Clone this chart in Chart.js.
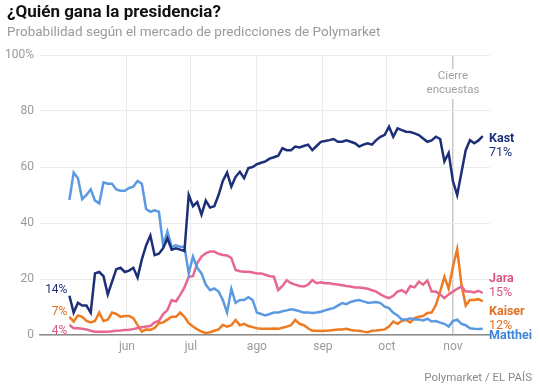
<!DOCTYPE html>
<html>
<head>
<meta charset="utf-8">
<script src="https://cdn.jsdelivr.net/npm/chart.js@4.4.0/dist/chart.umd.min.js"></script>
<style>
  html, body { margin: 0; padding: 0; background: #fff; }
  body { width: 540px; height: 390px; position: relative; overflow: hidden; font-family: Roboto, "Noto Sans", sans-serif; }
  #title { position: absolute; left: 7px; top: 1px; font-size: 17px; font-weight: 700; color: #111; }
  #subtitle { position: absolute; left: 7px; top: 23px; font-size: 13.5px; color: #9a9a9a; }
  #source { position: absolute; right: 8px; top: 370px; font-size: 11.5px; color: #8a8a8a; }
  #wrap { position: absolute; left: 0; top: 0; width: 540px; height: 390px; }
</style>
</head>
<body>
<div id="wrap"><canvas id="chart" width="540" height="390"></canvas></div>
<div id="title">¿Quién gana la presidencia?</div>
<div id="subtitle">Probabilidad según el mercado de predicciones de Polymarket</div>
<div id="source">Polymarket / EL PAÍS</div>
<script>
// days counted from 1 June
const days = [
  -27, -25, -23, -21, -19, -17, -15, -13, -11, -9,
  -7, -5, -3, -1, 1, 3, 5, 7, 9, 11,
  13, 15, 17, 19, 21, 23, 25, 27, 29, 31,
  33, 35, 37, 39, 41, 43, 45, 47, 49, 51,
  53, 55, 57, 59, 61, 63, 65, 67, 69, 71,
  73, 75, 77, 79, 81, 83, 85, 87, 89, 91,
  93, 95, 97, 99, 101, 103, 105, 107, 109, 111,
  113, 115, 117, 119, 121, 123, 125, 127, 129, 131,
  133, 135, 137, 139, 141, 143, 145, 147, 149, 151,
  153, 155, 157, 159, 161, 163, 165, 167
];

const kast = [
  14, 8, 11.5, 10.5, 10.5, 8, 22, 22.5, 21, 14.5,
  19, 23.5, 24, 22.5, 23, 24, 20.5, 27, 32, 35.5,
  28.5, 29, 31, 34.5, 30.5, 31, 30.5, 30, 50, 46,
  47.5, 43, 48, 45.5, 46, 50, 55, 58, 53, 56.5,
  58.3, 56, 59.6, 60, 61, 61.5, 62, 63, 63.5, 64,
  66.7, 66, 66, 67.3, 67, 67.5, 68, 66, 67.5, 69,
  69.3, 69.6, 70, 69, 69, 69.5, 69, 68.5, 67.3, 68,
  68.5, 68, 69.6, 70.8, 71.5, 74.4, 70.8, 73.8, 73.2, 72.6,
  72.5, 72, 71.4, 70.2, 69, 69.5, 70.8, 70, 62, 65,
  55, 50, 58, 66, 69.6, 68.5, 69.5, 71
];

const matthei = [
  48.2, 58, 56, 48.5, 50, 52, 48, 47, 54.5, 54,
  54, 52, 51.5, 51.5, 52.5, 53, 55, 54, 45, 44,
  44.5, 44, 32, 37, 31.5, 32, 31.5, 31.5, 22, 28,
  24, 22, 18, 16, 16.6, 15.5, 12.5, 8, 16.5, 11.5,
  12.5, 12.5, 13.5, 12.5, 8, 7.5, 7, 7.5, 8, 8,
  8.5, 8.8, 9.2, 8.9, 8.5, 8, 8, 7.9, 8, 8.3,
  8.8, 9.3, 9.6, 10.5, 11.4, 11, 11.8, 12.2, 12.5, 12,
  11.5, 11.6, 11.8, 11.4, 10.1, 9.6, 7.9, 7, 5.5, 5.5,
  6, 5.5, 5.5, 5.2, 5.8, 4.8, 5, 4.4, 4, 3,
  5, 5.5, 4, 3.5, 2.4, 2.2, 2.1, 2.2
];

const jara = [
  3.6, 2.4, 2.4, 2.2, 2, 1.5, 1.2, 1.2, 1.2, 1.2,
  1.3, 1.5, 1.6, 1.8, 1.9, 2.1, 2.5, 2.8, 3, 3.2,
  4.5, 5, 7.5, 8.9, 12.5, 12, 14.3, 17, 20.8, 21,
  25.7, 28, 29.2, 29.8, 29.8, 29, 28.6, 28.4, 27.5, 23.2,
  22.8, 22.6, 22.6, 22.3, 22, 22, 21.5, 21, 20.8, 16,
  17.5, 19.6, 18.5, 18, 17.5, 17.3, 18, 19.6, 18.5, 18.8,
  18.5, 18.5, 18.2, 18, 17.8, 17.5, 17.3, 17, 17, 16.8,
  16.5, 16, 15.5, 14.5, 13.7, 13.2, 14, 15.5, 16, 15,
  17.5, 17, 19, 18, 19.5, 15.5, 15.5, 14.5, 13.2, 14.5,
  15.5, 16.5, 17.3, 15.5, 15.5, 15.2, 15.8, 15
];

const kaiser = [
  6.5, 4.8, 7, 6.5, 5, 4.5, 5, 8, 5, 5.5,
  8, 7.5, 6.5, 6.8, 6.8, 6, 3.5, 1.2, 2, 1.8,
  2.5, 4.2, 4.5, 5.5, 6.5, 6.5, 8, 6.5, 4.2, 3,
  2, 1.2, 0.7, 1, 1.5, 2, 3.6, 3, 3.5, 5.4,
  3.5, 4, 3.2, 2.8, 2.4, 2.2, 2.2, 2.2, 2.3, 2.2,
  2.6, 3, 3.5, 5.4, 4, 3.5, 2.4, 1.5, 1.5, 1.4,
  1.5, 1.6, 1.8, 2, 2, 2.2, 1.8, 1.6, 1.5, 1.2,
  1, 1.5, 1.6, 1.8, 2, 3, 4.8, 4, 5, 5.4,
  4.5, 6, 6.5, 6.8, 7.9, 8, 10.7, 15.5, 20.8, 16.5,
  24.4, 30.7, 18, 10.5, 12.5, 12.5, 12.8, 12
];

const monthDays = [0, 30, 61, 92, 122, 153];
const monthLabels = ["jun", "jul", "ago", "sep", "oct", "nov"];
const yTicks = [0, 20, 40, 60, 80, 100];
const pollCloseDay = 153;

const names = ["Kast", "Matthei", "Jara", "Kaiser"];
const series = [kast, matthei, jara, kaiser];
const colors = ["#1c2f78", "#5b9ae2", "#e8678e", "#ee7b22"];
const labelColors = ["#1c2f78", "#3f86d6", "#d9577f", "#e07020"];

function pts(vals) {
  return vals.map((v, i) => ({ x: days[i], y: v }));
}

const labelsPlugin = {
  id: "labels",
  afterDatasetsDraw(chart) {
    const ctx = chart.ctx;
    const xs = chart.scales.x, ys = chart.scales.y;
    const area = chart.chartArea;

    // poll close note
    const px = xs.getPixelForValue(pollCloseDay);
    ctx.save();
    ctx.font = "11.5px Roboto, sans-serif";
    ctx.textAlign = "center";
    ctx.textBaseline = "middle";
    ctx.fillStyle = "#fff";
    ctx.fillRect(px - 30, area.top + 14, 60, 30);
    ctx.fillStyle = "#a0a0a0";
    ctx.fillText("Cierre", px, area.top + 21);
    ctx.fillText("encuestas", px, area.top + 35);

    // right end labels, nudged apart so they do not overlap
    const endX = area.right - 1;
    const ends = [
      { i: 0, dy: 3 },
      { i: 2, dy: -14 },
      { i: 3, dy: 10 },
      { i: 1, dy: 7, noPct: true }
    ];
    ends.forEach(e => {
      const vals = series[e.i];
      const last = vals[vals.length - 1];
      const y = ys.getPixelForValue(last) + e.dy;
      ctx.textAlign = "left";
      ctx.fillStyle = labelColors[e.i];
      ctx.font = "bold 12.5px Roboto, sans-serif";
      ctx.fillText(names[e.i], endX, y);
      if (!e.noPct) {
        ctx.font = "12.5px Roboto, sans-serif";
        ctx.fillText(Math.round(last) + "%", endX, y + 14);
      }
    });

    // left start labels
    const startX = xs.getPixelForValue(days[0]) - 2;
    const starts = [
      { i: 0, y: 290 },
      { i: 3, y: 312 },
      { i: 2, y: 331 }
    ];
    ctx.textAlign = "right";
    ctx.font = "12px Roboto, sans-serif";
    starts.forEach(s => {
      ctx.fillStyle = labelColors[s.i];
      ctx.fillText(Math.round(series[s.i][0]) + "%", startX, s.y);
    });
    ctx.restore();
  }
};

const ctx = document.getElementById("chart").getContext("2d");
new Chart(ctx, {
  type: "line",
  data: {
    datasets: series.map((vals, i) => ({
      label: names[i],
      data: pts(vals),
      borderColor: colors[i],
      borderWidth: 2.5,
      pointRadius: 0,
      tension: 0,
      fill: false
    }))
  },
  options: {
    responsive: false,
    animation: false,
    layout: { padding: { top: 55, right: 50, left: 0, bottom: 0 } },
    plugins: { legend: { display: false }, tooltip: { enabled: false } },
    scales: {
      x: {
        type: "linear",
        min: -40.8,
        max: 170.4,
        afterBuildTicks: s => { s.ticks = monthDays.map(v => ({ value: v })); },
        afterFit: s => { s.height = 55; },
        ticks: {
          color: "#9a9a9a",
          font: { family: "Roboto", size: 12 },
          padding: 5,
          maxRotation: 0,
          callback: v => monthLabels[monthDays.indexOf(v)]
        },
        grid: {
          drawTicks: false,
          color: c => (c.tick && c.tick.value === pollCloseDay) ? "#c9c9c9" : "#ececec",
          lineWidth: c => (c.tick && c.tick.value === pollCloseDay) ? 1.5 : 1
        },
        border: { color: "#8c8c8c", width: 1.5 }
      },
      y: {
        min: 0,
        max: 100,
        afterBuildTicks: s => { s.ticks = yTicks.map(v => ({ value: v })); },
        afterFit: s => { s.width = 40; },
        ticks: {
          color: "#9a9a9a",
          font: { family: "Roboto", size: 12 },
          padding: 6,
          callback: v => v === 100 ? "100%" : v
        },
        grid: { drawTicks: false, color: "#ececec" },
        border: { display: false }
      }
    }
  },
  plugins: [labelsPlugin]
});
</script>
</body>
</html>
